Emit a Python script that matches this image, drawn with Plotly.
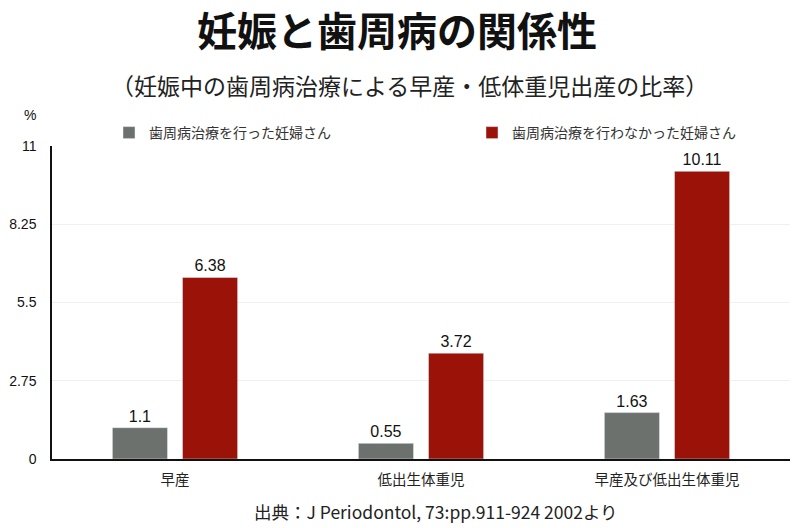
import plotly.graph_objects as go

categories = ["早産", "低出生体重児", "早産及び低出生体重児"]
treated = [1.1, 0.55, 1.63]
untreated = [6.38, 3.72, 10.11]
tick_vals = [0, 2.75, 5.5, 8.25, 11]
tick_text = ["0", "2.75", "5.5", "8.25", "11"]

FONT = "Noto Sans CJK JP"
# the page body has an 8px margin, so the figure is drawn from (8, 8)
OFF = 8
W, H = 800 - OFF, 528 - OFF
LEFT, RIGHT, TOP, BOTTOM = 52, 790, 146, 459   # plot area in screen pixels


def cx(px):
    return (px - OFF) / W


def cy(px):
    return 1 - (px - OFF) / H


def px_(x):
    return (x - LEFT) / (RIGHT - LEFT)


def py(y):
    return (BOTTOM - y) / (BOTTOM - TOP)


fig = go.Figure()
fig.add_trace(go.Bar(
    x=categories, y=treated, name="歯周病治療を行った妊婦さん",
    marker=dict(color="#6c716e"),
    text=[str(v) for v in treated], textposition="outside",
    textfont=dict(size=16, color="#111111", family="Liberation Sans"),
    cliponaxis=False,
))
fig.add_trace(go.Bar(
    x=categories, y=untreated, name="歯周病治療を行わなかった妊婦さん",
    marker=dict(color="#9b1209"),
    text=[str(v) for v in untreated], textposition="outside",
    textfont=dict(size=16, color="#111111", family="Liberation Sans"),
    cliponaxis=False,
))

fig.update_layout(
    width=W, height=H,
    paper_bgcolor="white", plot_bgcolor="white",
    margin=dict(l=LEFT - OFF, r=800 - RIGHT, t=TOP - OFF, b=528 - BOTTOM,
                autoexpand=False),
    font=dict(family=FONT, color="#222222"),
    barmode="group", bargap=0.43, bargroupgap=0.214,
    showlegend=True,
    legend=dict(
        orientation="h", xref="container", yref="container",
        x=cx(109), y=cy(117), xanchor="left", yanchor="top",
        entrywidth=318, font=dict(size=14, family=FONT, color="#333333"),
        itemclick=False,
    ),
    title=dict(
        text="妊娠と歯周病の関係性", x=cx(397), xanchor="center",
        y=cy(32), yanchor="middle",
        font=dict(size=40, family=FONT, color="#111111", weight="bold"),
    ),
)

fig.update_yaxes(
    range=[0, 11], tickvals=tick_vals, ticktext=tick_text,
    showgrid=True, gridcolor="#f0f0f0", gridwidth=1,
    showline=True, linecolor="#111111", linewidth=1.5,
    zeroline=False, ticks="", ticklabelstandoff=11,
    tickfont=dict(size=14, family="Liberation Sans", color="#111111"),
)
fig.update_xaxes(
    showline=True, linecolor="#111111", linewidth=1.5,
    ticks="", ticklabelstandoff=7,
    tickfont=dict(size=14.5, family=FONT, color="#222222"),
)

fig.add_annotation(
    text="（妊娠中の歯周病治療による早産・低体重児出産の比率）",
    xref="paper", yref="paper", x=px_(409), y=py(85), showarrow=False,
    font=dict(size=23, family=FONT, color="#222222"),
    xanchor="center", yanchor="middle",
)
fig.add_annotation(
    text="%", xref="paper", yref="paper", x=px_(38), y=py(115),
    showarrow=False, font=dict(size=14, family="Liberation Sans", color="#111111"),
    xanchor="right", yanchor="middle",
)
fig.add_annotation(
    text="出典：J Periodontol, 73:pp.911-924 2002より",
    xref="paper", yref="paper", x=px_(436), y=py(511),
    showarrow=False, font=dict(size=17.5, family=FONT, color="#222222"),
    xanchor="center", yanchor="middle",
)

fig.write_html("out.html")
